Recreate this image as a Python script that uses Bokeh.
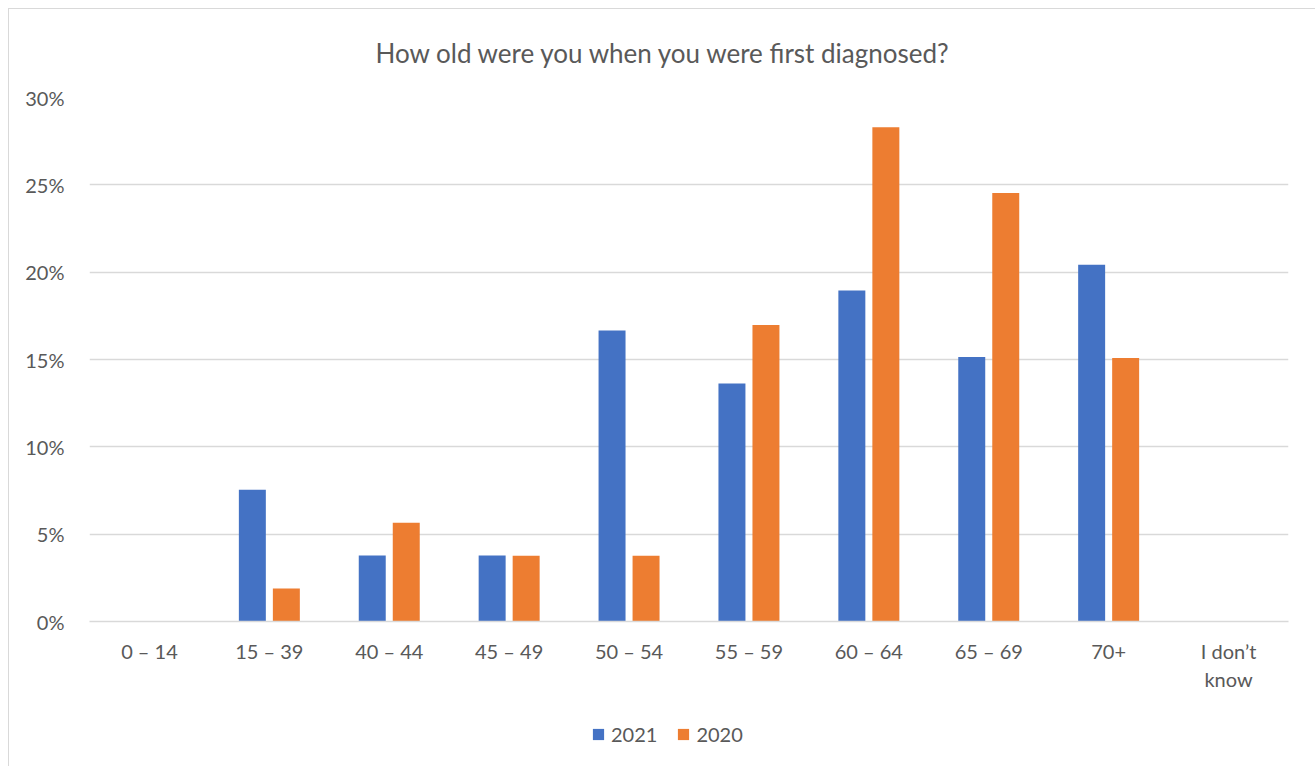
from bokeh.plotting import figure
from bokeh.layouts import column
from bokeh.models import (ColumnDataSource, FactorRange, Range1d, NumeralTickFormatter,
                          FixedTicker, Legend, LegendItem, Title)
from bokeh.transform import dodge
from bokeh.embed import file_html
from bokeh.resources import INLINE

categories = ["0 – 14", "15 – 39", "40 – 44", "45 – 49", "50 – 54",
              "55 – 59", "60 – 64", "65 – 69", "70+", "I don’t\nknow"]
series_names = ["2021", "2020"]
values_2021 = [0.0, 0.0755, 0.0378, 0.0378, 0.1666, 0.1362, 0.1895, 0.1515, 0.2043, 0.0]
values_2020 = [0.0, 0.0189, 0.0566, 0.0377, 0.0377, 0.1698, 0.2830, 0.2453, 0.1509, 0.0]
y_ticks = [0.0, 0.05, 0.10, 0.15, 0.20, 0.25, 0.30]

FONT = "Lato"
TXT = "#595959"
GRID = "#d9d9d9"
BLUE = "#4472C4"
ORANGE = "#ED7D31"
COLORS = [BLUE, ORANGE]
FIELDS = ["v2021", "v2020"]
OFFSETS = [-0.1418, 0.1418]

src = ColumnDataSource(dict(cat=categories, v2021=values_2021, v2020=values_2020))

# ---- main chart ----
p = figure(x_range=FactorRange(*categories), y_range=Range1d(0, 0.30),
           width=1306, height=698, output_backend="svg", toolbar_location=None,
           min_border_left=80, min_border_right=27, min_border_top=88, min_border_bottom=86)
p.outline_line_color = None

p.title = Title(text="How old were you when you were first diagnosed?", align="left",
                vertical_align="top",
                text_font=FONT, text_font_size="26px", text_font_style="normal",
                text_color=TXT, standoff=54, offset=286)

for f, col, off in zip(FIELDS, COLORS, OFFSETS):
    p.vbar(x=dodge("cat", off, range=p.x_range), top=f, width=0.225,
           source=src, fill_color=col, line_color=None)

p.xgrid.grid_line_color = None
p.ygrid.grid_line_color = GRID
p.ygrid.grid_line_width = 1.5

p.yaxis.ticker = FixedTicker(ticks=y_ticks)
p.yaxis.formatter = NumeralTickFormatter(format="0%")
for ax in (p.xaxis[0], p.yaxis[0]):
    ax.major_tick_line_color = None
    ax.minor_tick_line_color = None
    ax.major_label_text_font = FONT
    ax.major_label_text_font_size = "20px"
    ax.major_label_text_color = TXT
p.yaxis.axis_line_color = None
p.yaxis.major_label_standoff = 19
p.xaxis.axis_line_color = GRID
p.xaxis.axis_line_width = 1.5
p.xaxis.major_label_standoff = 11

# ---- legend strip below the chart (its bars lie outside its visible range) ----
lf = figure(width=1306, height=59, output_backend="svg", toolbar_location=None,
            x_range=p.x_range, y_range=Range1d(1, 2),
            x_axis_type=None, y_axis_type=None, min_border=0)
lf.outline_line_color = None
lf.grid.grid_line_color = None
items = []
for name, f, col, off in zip(series_names, FIELDS, COLORS, OFFSETS):
    r = lf.vbar(x=dodge("cat", off, range=lf.x_range), top=f, width=0.225,
                source=src, fill_color=col, line_color=None)
    items.append(LegendItem(label=name, renderers=[r]))
legend = Legend(items=items, orientation="horizontal", location=(502, 20),
                glyph_width=14, glyph_height=14, label_standoff=6, spacing=19,
                padding=0, margin=0, border_line_color=None, background_fill_alpha=0,
                label_text_font=FONT, label_text_font_size="20px", label_text_color=TXT)
lf.add_layout(legend, "center")

layout = column(p, lf, spacing=0)
layout.styles = {"margin-left": "8px", "margin-top": "8px",
                 "border-left": "1px solid #d9d9d9", "border-top": "1px solid #d9d9d9"}

open("out.html", "w").write(file_html(layout, INLINE))
